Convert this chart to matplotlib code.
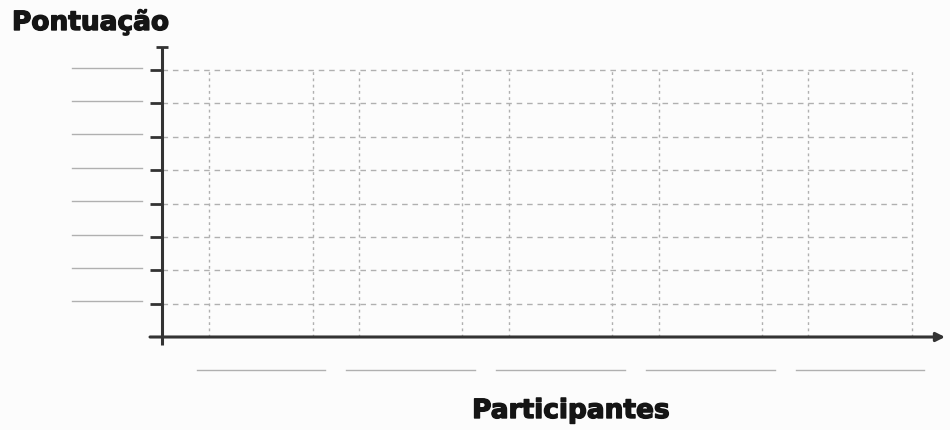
import matplotlib
matplotlib.use("Agg")
import matplotlib.pyplot as plt
import matplotlib.patheffects as pe
import numpy as np

# Data (blank worksheet chart: 5 participants, score levels 1..8)
participants = ["", "", "", "", ""]
score_levels = [1, 2, 3, 4, 5, 6, 7, 8]
y_label = "Pontuação"
x_label = "Participantes"

fig = plt.figure(figsize=(9.5, 4.3), dpi=100, facecolor="#fcfcfc")
ax = fig.add_axes([162 / 950, 93 / 430, (945 - 162) / 950, (337 - 47) / 430])
ax.set_facecolor("none")

n = len(participants)
pos = np.arange(n)
bar_w = 0.69
xmin, xmax = -0.661, 4.568
ymin, ymax = 0, 8.69
ax.set_xlim(xmin, xmax)
ax.set_ylim(ymin, ymax)

for s in ax.spines.values():
    s.set_visible(False)

# grid: horizontal dashed lines at score levels
ax.hlines(score_levels, xmin, pos[-1] + bar_w / 2, colors="#b0b0b0",
          linestyles=(0, (4, 3.5)), lw=1.0)
# vertical dashed lines at bar edges
edges = np.concatenate([pos - bar_w / 2, pos + bar_w / 2])
ax.vlines(edges, 0, score_levels[-1], colors="#b0b0b0",
          linestyles=(0, (2, 2.5)), lw=1.0)

# y axis with cap
ax.plot([xmin, xmin], [-0.25, ymax], color="#333333", lw=2.2, clip_on=False,
        solid_capstyle="butt")
ax.plot([xmin], [ymax], marker="_", ms=9, mew=2, color="#333333", clip_on=False)
# x axis with arrow
ax.annotate("", xy=(xmax, 0), xytext=(xmin - 0.08, 0), annotation_clip=False,
            arrowprops=dict(arrowstyle="-|>", lw=2.2, color="#333333",
                            mutation_scale=13, shrinkA=0, shrinkB=0))

# y ticks (outward) with blank label lines
ax.set_yticks(score_levels)
ax.set_yticklabels([""] * len(score_levels))
ax.tick_params(axis="y", direction="out", length=8.5, width=2, color="#333333")
ax.set_xticks([])
for lv in score_levels:
    ax.plot([-1.262, -0.795], [lv + 0.07, lv + 0.07], color="#b0b0b0", lw=1.0,
            clip_on=False)

# blank label lines under each participant
for p in pos:
    ax.plot([p - 0.43, p + 0.43], [-1.0, -1.0], color="#b0b0b0", lw=1.0,
            clip_on=False)

stroke = [pe.withStroke(linewidth=1.0, foreground="#151515")]
fig.text(12 / 950, 1 - 10 / 430, y_label, fontsize=19, fontweight="bold",
         family="DejaVu Sans", color="#151515", va="top", ha="left",
         path_effects=stroke)
fig.text(571 / 950, 1 - 411 / 430, x_label, fontsize=19, fontweight="bold",
         family="DejaVu Sans", color="#151515", va="center", ha="center",
         path_effects=stroke)

fig.savefig("out.png", dpi=100, facecolor=fig.get_facecolor())
